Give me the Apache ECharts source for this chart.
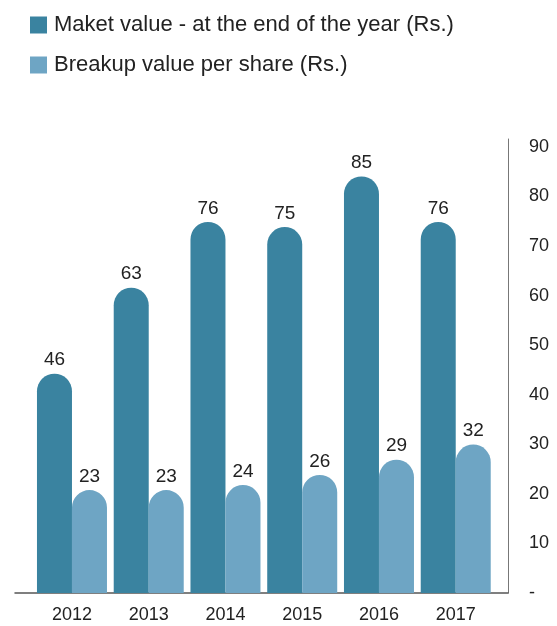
<!DOCTYPE html>
<html>
<head>
<meta charset="utf-8">
<script src="https://cdn.jsdelivr.net/npm/echarts@6/dist/echarts.min.js"></script>
<style>
  html, body { margin: 0; padding: 0; background: #fff; }
  #chart { width: 557px; height: 626px; }
</style>
</head>
<body>
<div id="chart"></div>
<script>
var years = ["2012", "2013", "2014", "2015", "2016", "2017"];
var marketValues = [46, 63, 76, 75, 85, 76];
var breakupValues = [23, 23, 24, 26, 29, 32];
var seriesNames = [
  "Maket value - at the end of the year (Rs.)",
  "Breakup value per share (Rs.)"
];

var darkBlue = "#3a83a0";
var lightBlue = "#6ea5c4";

//==== BAR CHART ======//
var chart = echarts.init(document.getElementById("chart"));

function barSeries(name, data, color) {
  return {
    name: name,
    type: "bar",
    xAxisIndex: 0,
    yAxisIndex: 0,
    data: data,
    barWidth: 35,
    barGap: "0%",
    clip: true,
    itemStyle: {
      color: color,
      borderRadius: [17.5, 17.5, 0, 0],
    },
    label: {
      show: true,
      position: "top",
      distance: 4,
      fontFamily: "Liberation Sans",
      fontSize: 19,
      color: "#222",
    },
  };
}

chart.setOption({
  animation: false,
  legend: {
    orient: "vertical",
    left: 30,
    top: 14,
    padding: 0,
    itemWidth: 17,
    itemHeight: 17,
    itemGap: 18,
    icon: "rect",
    textStyle: {
      fontFamily: "Liberation Sans",
      fontSize: 22,
      lineHeight: 21,
      padding: [0, 0, 0, 2],
      color: "#222",
    },
    data: seriesNames,
  },
  grid: [
    // bars
    { left: 33.6, right: 62.9, top: 139, bottom: 33 },
    // baseline and right axis
    { left: 15, right: 49, top: 139, bottom: 33 },
  ],
  xAxis: [
    {
      type: "category",
      gridIndex: 0,
      data: years,
      axisLine: { show: false },
      axisTick: { show: false },
      axisLabel: {
        margin: 13,
        fontFamily: "Liberation Sans",
        fontSize: 18,
        color: "#222",
      },
    },
    {
      type: "value",
      gridIndex: 1,
      min: 0,
      max: 1,
      axisLine: { show: true, lineStyle: { color: "#555", width: 1.5 } },
      axisTick: { show: false },
      axisLabel: { show: false },
      splitLine: { show: false },
    },
  ],
  yAxis: [
    {
      // bar scale, zero sits a little below the baseline
      type: "value",
      gridIndex: 0,
      min: 2.65,
      max: 92.4,
      show: false,
    },
    {
      type: "value",
      gridIndex: 1,
      position: "right",
      min: 0,
      max: 91.6,
      interval: 10,
      axisLine: { show: true, onZero: false, lineStyle: { color: "#777", width: 1 } },
      axisTick: { show: false },
      splitLine: { show: false },
      axisLabel: {
        margin: 21,
        showMaxLabel: false,
        fontFamily: "Liberation Sans",
        fontSize: 18,
        color: "#222",
        formatter: function (value) {
          return value === 0 ? "-" : value;
        },
      },
    },
  ],
  series: [
    barSeries(seriesNames[0], marketValues, darkBlue),
    barSeries(seriesNames[1], breakupValues, lightBlue),
  ],
});
</script>
</body>
</html>
